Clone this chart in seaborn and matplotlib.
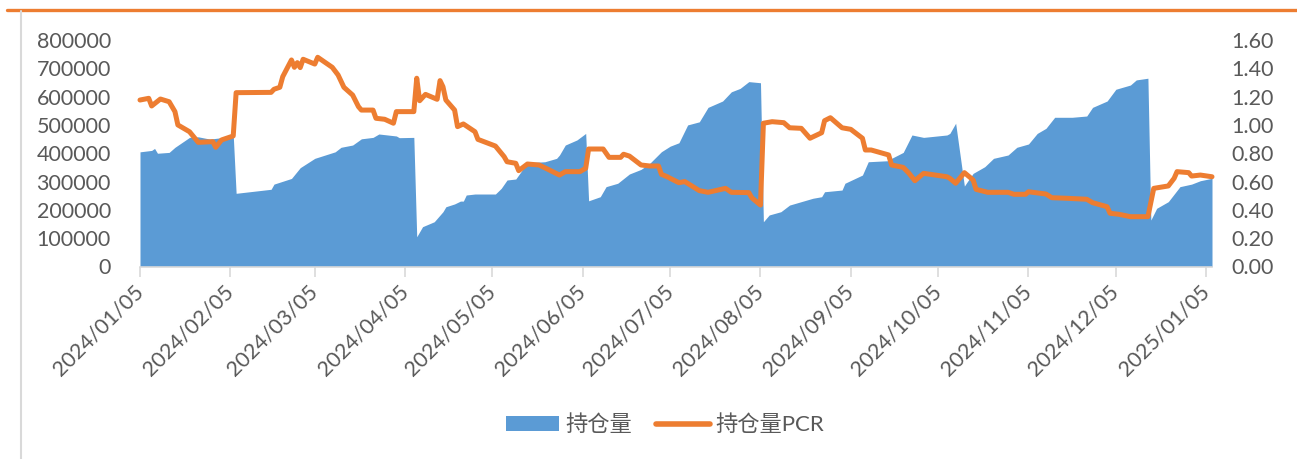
import pandas as pd
import matplotlib
matplotlib.use('Agg')
import matplotlib.pyplot as plt
import matplotlib.dates as mdates
from matplotlib.ticker import FuncFormatter, MultipleLocator
from matplotlib.lines import Line2D
from matplotlib.patches import Patch
import seaborn as sns

# 持仓量 (open interest)
oi_dates = [
    '2024-01-05', '2024-01-09', '2024-01-10', '2024-01-11', '2024-01-15', '2024-01-17',
    '2024-01-19', '2024-01-22', '2024-01-25', '2024-01-29', '2024-02-02', '2024-02-06',
    '2024-02-07', '2024-02-19', '2024-02-20', '2024-02-26', '2024-02-29', '2024-03-05',
    '2024-03-12', '2024-03-14', '2024-03-18', '2024-03-21', '2024-03-25', '2024-03-27',
    '2024-04-02', '2024-04-03', '2024-04-08', '2024-04-09', '2024-04-11', '2024-04-15',
    '2024-04-18', '2024-04-19', '2024-04-22', '2024-04-24', '2024-04-25', '2024-04-26',
    '2024-04-29', '2024-05-06', '2024-05-08', '2024-05-10', '2024-05-13', '2024-05-16',
    '2024-05-17', '2024-05-23', '2024-05-27', '2024-05-28', '2024-05-30', '2024-06-03',
    '2024-06-06', '2024-06-07', '2024-06-11', '2024-06-13', '2024-06-17', '2024-06-21',
    '2024-06-25', '2024-06-28', '2024-07-02', '2024-07-05', '2024-07-08', '2024-07-11',
    '2024-07-15', '2024-07-18', '2024-07-23', '2024-07-26', '2024-07-29', '2024-08-01',
    '2024-08-05', '2024-08-06', '2024-08-08', '2024-08-12', '2024-08-15', '2024-08-19',
    '2024-08-23', '2024-08-26', '2024-08-27', '2024-09-02', '2024-09-03', '2024-09-09',
    '2024-09-11', '2024-09-18', '2024-09-19', '2024-09-23', '2024-09-26', '2024-09-30',
    '2024-10-08', '2024-10-09', '2024-10-10', '2024-10-11', '2024-10-14', '2024-10-15',
    '2024-10-17', '2024-10-21', '2024-10-24', '2024-10-29', '2024-11-01', '2024-11-05',
    '2024-11-08', '2024-11-11', '2024-11-14', '2024-11-20', '2024-11-25', '2024-11-27',
    '2024-12-02', '2024-12-05', '2024-12-10', '2024-12-12', '2024-12-16', '2024-12-17',
    '2024-12-19', '2024-12-23', '2024-12-27', '2024-12-31', '2025-01-03', '2025-01-07',
]
oi_values = [
    405000, 410000, 417000, 400000, 403000, 421000,
    435000, 456000, 458000, 450000, 455000, 465000,
    258500, 272700, 291000, 311000, 349000, 382000,
    405000, 421000, 429000, 451000, 456000, 468000,
    461000, 455000, 456000, 105000, 140600, 158000,
    193500, 211000, 221000, 231000, 231000, 252500,
    256000, 256000, 276000, 305500, 309000, 352500,
    366600, 370000, 382000, 393800, 429000, 447000,
    470000, 232000, 246500, 282000, 294000, 326700,
    343000, 364500, 405500, 425000, 437000, 500000,
    511000, 562000, 584500, 617000, 629000, 653000,
    649000, 158000, 182000, 193500, 217000, 229000,
    241000, 246500, 264000, 270000, 294000, 323000,
    370000, 373700, 382000, 403000, 464500, 456000,
    464500, 470000, 488000, 506000, 284000, 299500,
    329000, 352500, 382000, 393800, 421000, 432700,
    470000, 488000, 527000, 527000, 531500, 562000,
    584500, 626000, 641000, 659000, 665000, 164000,
    205500, 229000, 282000, 291000, 303000, 311500,
]

# 持仓量PCR
pcr_dates = [
    '2024-01-05', '2024-01-08', '2024-01-09', '2024-01-12', '2024-01-15', '2024-01-17',
    '2024-01-18', '2024-01-22', '2024-01-25', '2024-01-30', '2024-01-31', '2024-02-02',
    '2024-02-06', '2024-02-07', '2024-02-19', '2024-02-20', '2024-02-22', '2024-02-23',
    '2024-02-26', '2024-02-27', '2024-02-28', '2024-02-29', '2024-03-01', '2024-03-05',
    '2024-03-06', '2024-03-11', '2024-03-13', '2024-03-15', '2024-03-18', '2024-03-20',
    '2024-03-21', '2024-03-25', '2024-03-26', '2024-03-29', '2024-04-01', '2024-04-02',
    '2024-04-08', '2024-04-09', '2024-04-10', '2024-04-12', '2024-04-16', '2024-04-17',
    '2024-04-18', '2024-04-19', '2024-04-22', '2024-04-23', '2024-04-25', '2024-04-29',
    '2024-04-30', '2024-05-06', '2024-05-09', '2024-05-10', '2024-05-13', '2024-05-14',
    '2024-05-17', '2024-05-21', '2024-05-24', '2024-05-28', '2024-05-30', '2024-06-04',
    '2024-06-06', '2024-06-07', '2024-06-12', '2024-06-14', '2024-06-18', '2024-06-19',
    '2024-06-21', '2024-06-25', '2024-06-28', '2024-07-01', '2024-07-02', '2024-07-04',
    '2024-07-05', '2024-07-08', '2024-07-10', '2024-07-15', '2024-07-18', '2024-07-24',
    '2024-07-26', '2024-08-01', '2024-08-02', '2024-08-05', '2024-08-06', '2024-08-09',
    '2024-08-13', '2024-08-15', '2024-08-19', '2024-08-22', '2024-08-26', '2024-08-27',
    '2024-08-29', '2024-09-02', '2024-09-05', '2024-09-09', '2024-09-10', '2024-09-12',
    '2024-09-18', '2024-09-19', '2024-09-23', '2024-09-25', '2024-09-27', '2024-09-30',
    '2024-10-08', '2024-10-09', '2024-10-11', '2024-10-14', '2024-10-17', '2024-10-18',
    '2024-10-22', '2024-10-29', '2024-10-31', '2024-11-04', '2024-11-05', '2024-11-11',
    '2024-11-13', '2024-11-18', '2024-11-25', '2024-11-27', '2024-12-02', '2024-12-03',
    '2024-12-06', '2024-12-10', '2024-12-16', '2024-12-18', '2024-12-23', '2024-12-25',
    '2024-12-26', '2024-12-30', '2024-12-31', '2025-01-03', '2025-01-07',
]
pcr_values = [
    1.176, 1.188, 1.134, 1.183, 1.164, 1.094,
    1.000, 0.952, 0.877, 0.882, 0.842, 0.894,
    0.922, 1.228, 1.230, 1.252, 1.266, 1.341,
    1.459, 1.407, 1.440, 1.405, 1.464, 1.430,
    1.478, 1.407, 1.353, 1.266, 1.211, 1.129,
    1.105, 1.105, 1.047, 1.040, 1.012, 1.094,
    1.094, 1.330, 1.171, 1.216, 1.181, 1.313,
    1.270, 1.176, 1.105, 0.988, 1.007, 0.952,
    0.898, 0.851, 0.776, 0.740, 0.729, 0.677,
    0.724, 0.717, 0.687, 0.646, 0.670, 0.670,
    0.694, 0.830, 0.830, 0.771, 0.771, 0.793,
    0.780, 0.717, 0.710, 0.710, 0.651, 0.634,
    0.623, 0.592, 0.600, 0.536, 0.524, 0.552,
    0.524, 0.522, 0.486, 0.434, 1.012, 1.023,
    1.016, 0.980, 0.976, 0.906, 0.945, 1.030,
    1.051, 0.980, 0.969, 0.906, 0.823, 0.823,
    0.788, 0.717, 0.700, 0.658, 0.606, 0.658,
    0.634, 0.623, 0.588, 0.663, 0.611, 0.545,
    0.524, 0.524, 0.510, 0.510, 0.528, 0.512,
    0.486, 0.482, 0.475, 0.451, 0.422, 0.376,
    0.369, 0.352, 0.352, 0.552, 0.569, 0.623,
    0.670, 0.663, 0.639, 0.646, 0.634,
]

BLUE = '#5B9BD5'
ORANGE = '#ED7D31'
GREY_TXT = '#595959'
GREY_LN = '#D9D9D9'

sns.set_theme(style='white')
plt.rcParams['font.family'] = ['Lato', 'Noto Sans CJK SC', 'DejaVu Sans']

oi = pd.DataFrame({'date': pd.to_datetime(oi_dates), 'value': oi_values})
pcr = pd.DataFrame({'date': pd.to_datetime(pcr_dates), 'value': pcr_values})

W, H = 1297, 459
fig = plt.figure(figsize=(W / 100, H / 100), dpi=100)
ax = fig.add_axes([140 / W, 1 - 266.5 / H, (1212 - 140) / W, (266.5 - 40) / H])

ax.fill_between(oi['date'], oi['value'], 0, color=BLUE, lw=0)
ax.set_ylim(0, 800000)
ax.yaxis.set_major_locator(MultipleLocator(100000))
ax.yaxis.set_major_formatter(FuncFormatter(lambda v, p: f'{int(v)}'))

ax2 = ax.twinx()
sns.lineplot(data=pcr, x='date', y='value', ax=ax2, color=ORANGE, lw=3.6,
             solid_capstyle='round', solid_joinstyle='round', clip_on=False, legend=False)
ax2.set_ylim(0, 1.6)
ax2.yaxis.set_major_locator(MultipleLocator(0.2))
ax2.yaxis.set_major_formatter(FuncFormatter(lambda v, p: f'{v:.2f}'))

ax.set_xlim(pd.Timestamp('2024-01-05'), pd.Timestamp('2025-01-07'))
# monthly ticks on the 5th
ticks = pd.date_range('2024-01-01', '2025-01-01', freq='MS') + pd.Timedelta(days=4)
ax.set_xticks(ticks)
ax.xaxis.set_major_formatter(mdates.DateFormatter('%Y/%m/%d'))

for a in (ax, ax2):
    a.set_xlabel('')
    a.set_ylabel('')
    a.grid(False)
    for s in ('left', 'right', 'top'):
        a.spines[s].set_visible(False)
ax2.spines['bottom'].set_visible(False)
ax.spines['bottom'].set_color(GREY_LN)
ax.spines['bottom'].set_linewidth(1.2)

ax.tick_params(axis='x', length=7, width=1.2, color=GREY_LN, labelsize=15.5,
               labelcolor=GREY_TXT, pad=9, bottom=True)
ax.tick_params(axis='y', length=0, labelsize=15.5, labelcolor=GREY_TXT, pad=21)
ax2.tick_params(axis='y', length=0, labelsize=15.5, labelcolor=GREY_TXT, pad=14)
ax2.tick_params(axis='x', bottom=False, labelbottom=False)
for lbl in ax.get_xticklabels():
    lbl.set_rotation(45)
    lbl.set_ha('right')
    lbl.set_va('center')
    lbl.set_rotation_mode('anchor')

# chart frame: orange top rule, grey left rule
fig.add_artist(Line2D([7 / W, 1], [1 - 10 / H] * 2, color=ORANGE, lw=2.4, transform=fig.transFigure))
fig.add_artist(Line2D([20.5 / W] * 2, [0, 1 - 11 / H], color=GREY_LN, lw=1.5, transform=fig.transFigure))

handles = [
    Patch(facecolor=BLUE, edgecolor='none', label='持仓量'),
    Line2D([], [], color=ORANGE, lw=4, solid_capstyle='round', label='持仓量PCR'),
]
fig.legend(handles=handles, loc='center', bbox_to_anchor=(665 / W, 1 - 425 / H), ncol=2,
           frameon=False, fontsize=16, labelcolor=GREY_TXT, handlelength=2.4,
           handleheight=0.6, handletextpad=0.25, columnspacing=1.1)

fig.savefig('out.png', dpi=100)
